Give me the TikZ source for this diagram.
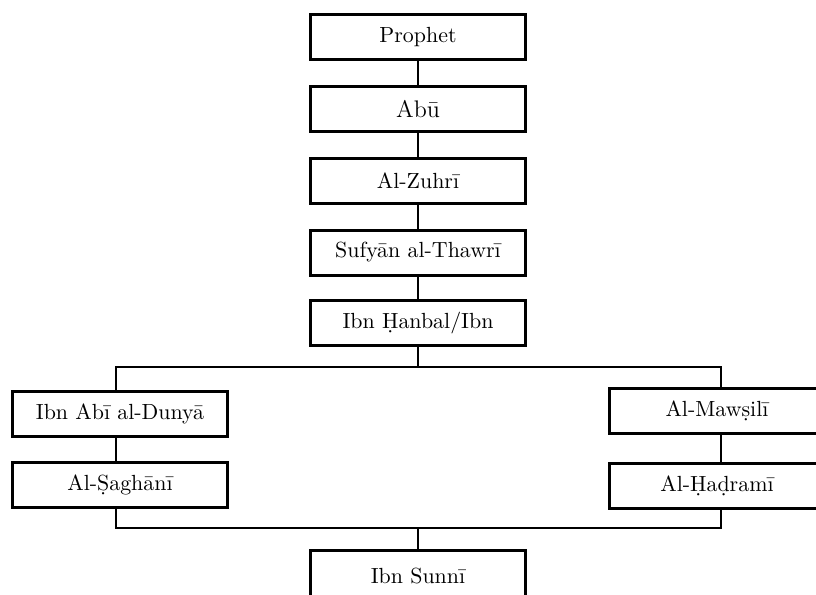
\documentclass[tikz,border=0pt]{standalone}
\usepackage{fontspec}
\begin{document}
\begin{tikzpicture}[x=0.5pt,y=-0.5pt,
  person/.style={draw,line width=1.5pt,minimum width=107.5pt,minimum height=22.5pt,inner sep=0pt,font=\fontsize{10.95}{13}\selectfont},
  link/.style={line width=0.6pt}]
\useasboundingbox (0,0) rectangle (816,595);
\node[person] (prophet) at (418,37) {Prophet};
\node[person,font=\fontsize{12}{14}\selectfont] (abu) at (418,109) {Abū};
\node[person] (zuhri) at (418,181) {Al-Zuhrī};
\node[person] (sufyan) at (418,252.5) {Sufyān al-Thawrī};
\node[person] (hanbal) at (418,323) {Ibn Ḥanbal/Ibn};
\node[person] (dunya) at (120,414) {Ibn Abī al-Dunyā};
\node[person] (saghani) at (120,484.5) {Al-Ṣaghānī};
\node[person] (mawsili) at (717,411) {Al-Mawṣilī};
\node[person] (hadrami) at (717,486) {Al-Ḥaḍramī};
\node[person,minimum height=26pt,anchor=north] (sunni) at (418,548.5) {\raisebox{0pt}[\height][\depth]{Ibn Sunnī}};
\coordinate (tl) at (116,367);
\coordinate (tr) at (721,367);
\coordinate (bl) at (116,528);
\coordinate (br) at (721,528);
\draw[link] (prophet) -- (abu);
\draw[link] (abu) -- (zuhri);
\draw[link] (zuhri) -- (sufyan);
\draw[link] (sufyan) -- (hanbal);
\draw[link] (hanbal.south) -- (hanbal.south |- tl);
\draw[link] (dunya.north -| tl) -- (tl) -- (tr) -- (mawsili.north -| tr);
\draw[link] (dunya.south -| tl) -- (saghani.north -| tl);
\draw[link] (mawsili.south -| tr) -- (hadrami.north -| tr);
\draw[link] (saghani.south -| bl) -- (bl) -- (br) -- (hadrami.south -| br);
\draw[link] (sunni.north |- bl) -- (sunni.north);
\end{tikzpicture}
\end{document}
